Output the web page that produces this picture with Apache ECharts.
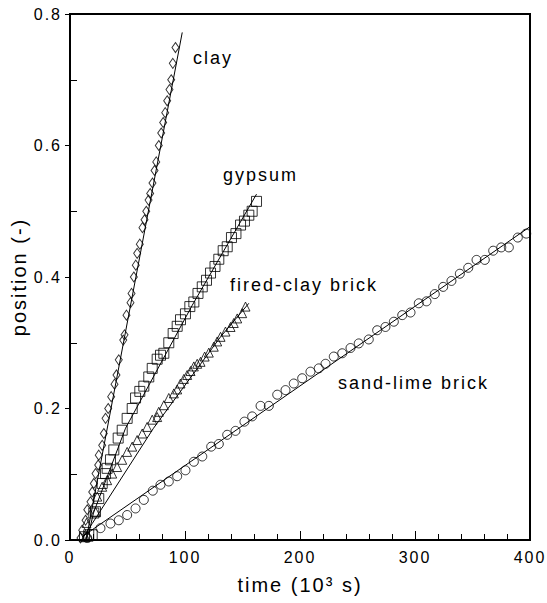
<!DOCTYPE html>
<html>
<head>
<meta charset="utf-8">
<script src="https://cdn.jsdelivr.net/npm/echarts@6.0.0/dist/echarts.min.js"></script>
<style>
  html, body { margin: 0; padding: 0; background: #fff; }
  #chart { width: 547px; height: 603px; }
  #chart svg text { letter-spacing: 2px; }
</style>
</head>
<body>
<div id="chart"></div>
<script>
// Front position measurements (time in 10^3 s, position dimensionless)
const clayTime = [9.1, 10.6, 13.5, 15.0, 17.8, 19.3, 20.7, 22.2, 24.5, 25.0, 28.0, 29.4, 30.9, 33.2, 35.8, 38.7, 40.4, 42.4, 46.3, 47.4, 49.1, 52.6, 53.5, 55.5, 57.2, 58.4, 60.7, 63.0, 64.8, 66.3, 68.3, 69.7, 71.7, 73.5, 75.0, 77.2, 79.3, 81.0, 82.8, 84.5, 86.5, 88.0, 89.4, 91.7];
const clayPos  = [0.003, 0.015, 0.030, 0.046, 0.058, 0.073, 0.086, 0.101, 0.114, 0.129, 0.144, 0.162, 0.185, 0.200, 0.218, 0.237, 0.251, 0.274, 0.304, 0.312, 0.342, 0.361, 0.375, 0.400, 0.418, 0.436, 0.450, 0.475, 0.487, 0.500, 0.517, 0.527, 0.543, 0.562, 0.575, 0.600, 0.619, 0.635, 0.650, 0.668, 0.685, 0.700, 0.725, 0.749];

const gypsumTime = [12.6, 16.3, 19.3, 20.7, 22.2, 25.0, 28.0, 30.9, 32.3, 35.2, 38.1, 41.9, 45.4, 49.7, 54.1, 57.0, 60.7, 64.2, 68.5, 71.5, 75.8, 78.7, 81.6, 85.9, 89.7, 93.2, 96.1, 100.4, 104.2, 107.7, 111.3, 115.0, 118.7, 122.2, 126.1, 129.4, 133.2, 136.7, 140.4, 144.3, 148.3, 151.7, 155.5, 158.4, 162.2];
const gypsumPos  = [0.005, 0.008, 0.008, 0.041, 0.043, 0.063, 0.086, 0.101, 0.109, 0.122, 0.137, 0.155, 0.167, 0.185, 0.200, 0.216, 0.226, 0.234, 0.248, 0.261, 0.275, 0.281, 0.284, 0.300, 0.314, 0.325, 0.335, 0.344, 0.355, 0.362, 0.375, 0.385, 0.395, 0.406, 0.416, 0.427, 0.440, 0.446, 0.460, 0.466, 0.479, 0.485, 0.494, 0.500, 0.515];

const firedTime = [13.5, 14.3, 16.1, 22.2, 23.7, 28.0, 32.3, 36.7, 41.0, 45.4, 49.7, 54.1, 58.4, 62.8, 67.1, 71.5, 75.8, 77.2, 81.6, 85.9, 90.3, 93.2, 96.1, 99.0, 101.9, 104.8, 107.7, 110.6, 113.5, 117.1, 120.7, 125.0, 128.0, 130.9, 135.2, 139.6, 142.4, 145.4, 149.7, 152.6];
const firedPos  = [0.005, 0.026, 0.005, 0.043, 0.066, 0.081, 0.091, 0.101, 0.111, 0.122, 0.134, 0.142, 0.152, 0.162, 0.172, 0.183, 0.187, 0.195, 0.205, 0.216, 0.223, 0.229, 0.238, 0.245, 0.251, 0.257, 0.264, 0.268, 0.271, 0.279, 0.285, 0.294, 0.302, 0.309, 0.317, 0.324, 0.330, 0.337, 0.345, 0.355];

const sandTime = [15.0, 26.5, 35.2, 42.4, 49.7, 57.0, 64.2, 72.0, 78.7, 85.9, 93.2, 100.4, 107.7, 115.0, 122.8, 129.4, 136.7, 143.9, 151.7, 158.4, 165.7, 172.9, 180.2, 187.4, 194.6, 201.9, 209.1, 216.3, 222.2, 229.4, 236.7, 243.9, 251.1, 259.8, 267.1, 274.3, 281.6, 288.9, 296.1, 303.3, 310.0, 317.2, 324.5, 331.7, 339.0, 346.3, 353.5, 360.7, 368.0, 375.0, 381.6, 389.4, 396.7];
const sandPos  = [0.003, 0.018, 0.025, 0.030, 0.038, 0.048, 0.061, 0.075, 0.084, 0.089, 0.097, 0.106, 0.119, 0.127, 0.142, 0.146, 0.160, 0.166, 0.180, 0.188, 0.204, 0.204, 0.221, 0.228, 0.238, 0.246, 0.256, 0.261, 0.268, 0.279, 0.284, 0.292, 0.299, 0.305, 0.319, 0.324, 0.332, 0.342, 0.346, 0.360, 0.363, 0.374, 0.385, 0.394, 0.405, 0.414, 0.426, 0.426, 0.440, 0.445, 0.445, 0.460, 0.466];

// Fitted curves
const clayFitTime = [14.0, 97.6];
const clayFitPos  = [0.000, 0.772];
const gypsumFitTime = [16.1, 20.4, 48.3, 106.3, 162.2];
const gypsumFitPos  = [0.008, 0.041, 0.170, 0.357, 0.526];
const firedFitTime = [12.0, 19.3, 72.6, 130.9, 155.5];
const firedFitPos  = [0.005, 0.025, 0.170, 0.309, 0.360];
const sandFitTime = [10.6, 400.0];
const sandFitPos  = [0.005, 0.4765];

// Axis ticks
const xTicks = [0, 100, 200, 300, 400];
const yTicks = [0.0, 0.2, 0.4, 0.6, 0.8];
const yMinorTicks = [0.1, 0.3, 0.5, 0.7];

// Material labels
const materialNames = ['clay', 'gypsum', 'fired-clay brick', 'sand-lime brick'];

const zip = (a, b) => a.map((v, i) => [v, b[i]]);
const FONT = '"Liberation Sans", Arial, Helvetica, sans-serif';

const chart = echarts.init(document.getElementById('chart'), null, { renderer: 'svg' });

const markerStyle = { color: 'rgba(0,0,0,0)', borderColor: '#000', borderWidth: 1 };
const fitLine = (data) => ({
  type: 'line', data, showSymbol: false, symbol: 'none', silent: true,
  lineStyle: { color: '#000', width: 1 }, z: 3
});
const points = (data, symbol, size) => ({
  type: 'scatter', data, symbol, symbolSize: size, silent: true,
  itemStyle: markerStyle, z: 2
});

chart.setOption({
  animation: false,
  backgroundColor: '#fff',
  grid: {
    left: 70, right: 17, top: 14, bottom: 63,
    show: true, borderColor: '#000', borderWidth: 2, backgroundColor: 'rgba(0,0,0,0)'
  },
  xAxis: {
    type: 'value', min: xTicks[0], max: xTicks[xTicks.length - 1], interval: 100,
    axisLine: { lineStyle: { color: '#000', width: 2 } },
    axisTick: { inside: true, length: 9, lineStyle: { color: '#000', width: 1 } },
    minorTick: { show: true, splitNumber: 5, length: 6, lineStyle: { color: '#000', width: 1 } },
    splitLine: { show: false },
    axisLabel: { fontSize: 16, color: '#000', margin: 9, fontFamily: FONT },
    name: 'time (10\u00B3 s)', nameLocation: 'middle', nameGap: 35,
    nameTextStyle: { fontSize: 20, color: '#000', fontFamily: FONT }
  },
  yAxis: [
    {
      type: 'value', min: yTicks[0], max: yTicks[yTicks.length - 1], interval: 0.2,
      axisLine: { lineStyle: { color: '#000', width: 2 } },
      axisTick: { inside: false, length: 5, lineStyle: { color: '#000', width: 1 } },
      splitLine: { show: false },
      axisLabel: { fontSize: 16, color: '#000', margin: 8, fontFamily: FONT,
                   formatter: (v) => v.toFixed(1) },
      name: 'position (-)', nameLocation: 'middle', nameGap: 39,
      nameTextStyle: { fontSize: 20, color: '#000', fontFamily: FONT }
    },
    {
      type: 'value', min: yTicks[0], max: yTicks[yTicks.length - 1], interval: 0.1,
      position: 'left', offset: 0,
      axisLine: { show: false },
      axisTick: { inside: true, length: 7, customValues: yMinorTicks,
                  lineStyle: { color: '#000', width: 1 } },
      axisLabel: { show: false },
      splitLine: { show: false }
    }
  ],
  graphic: [
    { type: 'text', x: 193, y: 58, silent: true,
      style: { text: materialNames[0], fontSize: 18, fontFamily: FONT, fill: '#000', verticalAlign: 'middle', align: 'left' } },
    { type: 'text', x: 223, y: 175, silent: true,
      style: { text: materialNames[1], fontSize: 18, fontFamily: FONT, fill: '#000', verticalAlign: 'middle', align: 'left' } },
    { type: 'text', x: 230, y: 285, silent: true,
      style: { text: materialNames[2], fontSize: 18, fontFamily: FONT, fill: '#000', verticalAlign: 'middle', align: 'left' } },
    { type: 'text', x: 338, y: 383, silent: true,
      style: { text: materialNames[3], fontSize: 18, fontFamily: FONT, fill: '#000', verticalAlign: 'middle', align: 'left' } }
  ],
  series: [
    fitLine(zip(clayFitTime, clayFitPos)),
    fitLine(zip(gypsumFitTime, gypsumFitPos)),
    fitLine(zip(firedFitTime, firedFitPos)),
    fitLine(zip(sandFitTime, sandFitPos)),
    points(zip(clayTime, clayPos), 'diamond', [7, 10]),
    points(zip(gypsumTime, gypsumPos), 'rect', 10),
    points(zip(firedTime, firedPos), 'triangle', 9),
    points(zip(sandTime, sandPos), 'circle', 9)
  ]
});
</script>
</body>
</html>
